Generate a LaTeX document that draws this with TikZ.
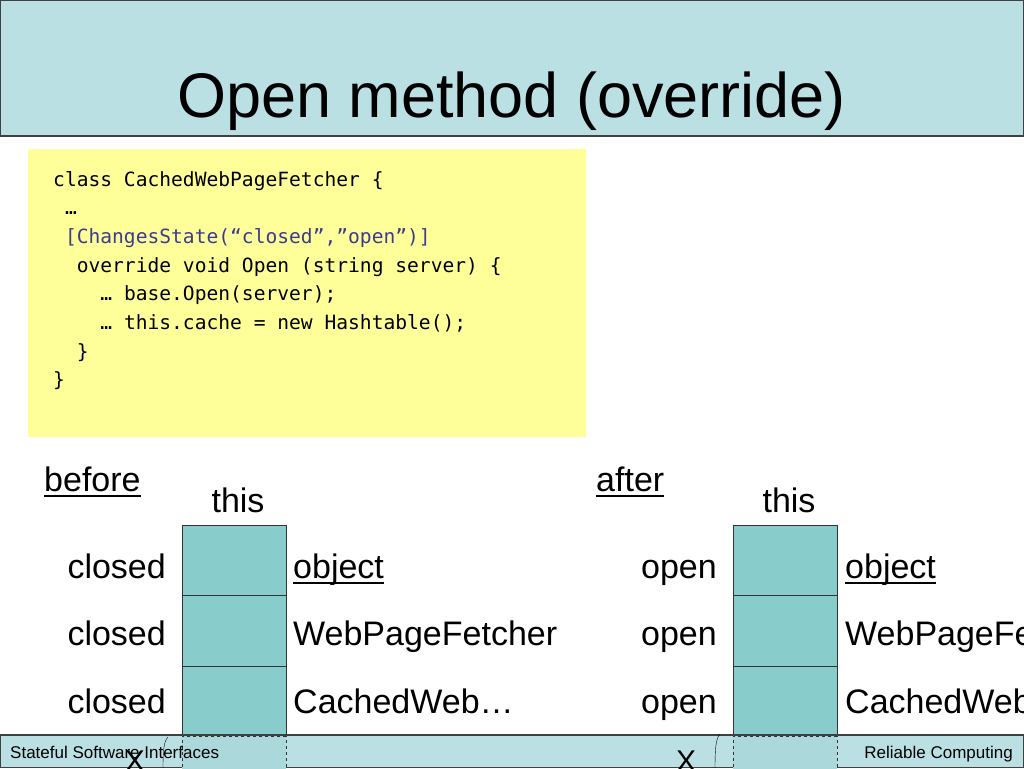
\documentclass[tikz,border=0pt]{standalone}
\usepackage{fontspec}
\setmainfont{Liberation Sans}
\newfontfamily\codefont{DejaVu Sans Mono}
\usetikzlibrary{positioning}
\definecolor{bandcyan}{RGB}{186,224,228}
\definecolor{cellteal}{RGB}{136,204,204}
\definecolor{ghostteal}{RGB}{170,216,219}
\definecolor{codeyellow}{RGB}{255,255,153}
\definecolor{attrblue}{RGB}{60,60,140}
\newcommand\ulword[1]{\setbox0\hbox{#1}\rlap{\rule[-5.5pt]{\wd0}{2pt}}\box0}
\begin{document}
\begin{tikzpicture}[x=1pt,y=-1pt,
 band/.style={fill=bandcyan,draw=black!75,line width=1.2pt},
 cell/.style={draw=black!80,fill=cellteal,minimum width=104pt,minimum height=70.4pt,inner sep=0pt,outer sep=0pt},
 ghost/.style={cell,dashed,fill=ghostteal},
 lbl/.style={font=\fontsize{34}{40}\selectfont,inner sep=0pt},
 code/.style={font=\codefont\fontsize{19.6}{24}\selectfont,inner sep=0pt,anchor=base west}]
\useasboundingbox (0,0) rectangle (1024,768);
\clip (0,0) rectangle (1024,768);
\draw[band] (0.6,0.6) rectangle (1023.4,136);
\node[font=\fontsize{63}{70}\selectfont,inner sep=0pt,anchor=base] (title) at (511.5,117) {Open method (override)};
\fill[codeyellow] (28,149) rectangle (586,437);
\foreach \ind/\txt [count=\k] in {0/{class CachedWebPageFetcher \{}, 1/{…}, 1/{\color{attrblue}[ChangesState(“closed”,”open”)]},
 2/{override void Open (string server) \{}, 4/{… base.Open(server);}, 4/{… this.cache = new Hashtable();}, 2/\}, 0/\}}
 \node[code] (code\k) at ({53+11.8*\ind},{186+28.7*(\k-1)}) {\txt};
% before / after
\node[lbl,anchor=base west] (before) at (44,491) {\ulword{before}};
\node[lbl,anchor=base west] (after) at (596,491) {\ulword{after}};
\node[lbl,anchor=base] (bthis) at (238,512) {this};
\node[lbl,anchor=base] (athis) at (789,512) {this};
\node[cell] (b1) at (234,560.2) {};
\node[cell,below=0pt of b1] (b2) {};
\node[cell,below=0pt of b2] (b3) {};
\node[cell] (a1) at (785,560.2) {};
\node[cell,below=0pt of a1] (a2) {};
\node[cell,below=0pt of a2] (a3) {};
\foreach \yy/\cls [count=\k] in {578/\ulword{object},645/WebPageFetcher,713/CachedWeb…} {
 \node[lbl,anchor=base east] (bst\k) at (166,\yy) {closed};
 \node[lbl,anchor=base east] (ast\k) at (717,\yy) {open};
 \node[lbl,anchor=base west] (bcl\k) at (293,\yy) {\cls};
 \node[lbl,anchor=base west] (acl\k) at (845,\yy) {\cls};
}
% footer
\draw[band] (0.6,735) rectangle (1023.4,767.4);
\node[ghost,below=0pt of b3] (b4) {};
\node[ghost,below=0pt of a3] (a4) {};
\node[font=\fontsize{17}{20}\selectfont,inner sep=0pt,anchor=base west] (foot1) at (10,758) {Stateful Software Interfaces};
\node[font=\fontsize{17}{20}\selectfont,inner sep=0pt,anchor=base east] (foot2) at (1013,758) {Reliable Computing};
\node[font=\fontsize{30}{34}\selectfont,inner sep=0pt,anchor=base] (bx) at (135,771.5) {X};
\node[font=\fontsize{30}{34}\selectfont,inner sep=0pt,anchor=base] (ax) at (686,771.5) {X};
\draw[thin] (168,737) .. controls (164,741) and (163,750) .. (163,768);
\draw[thin] (720,734) .. controls (716,738) and (715,748) .. (715,768);
\end{tikzpicture}
\end{document}
